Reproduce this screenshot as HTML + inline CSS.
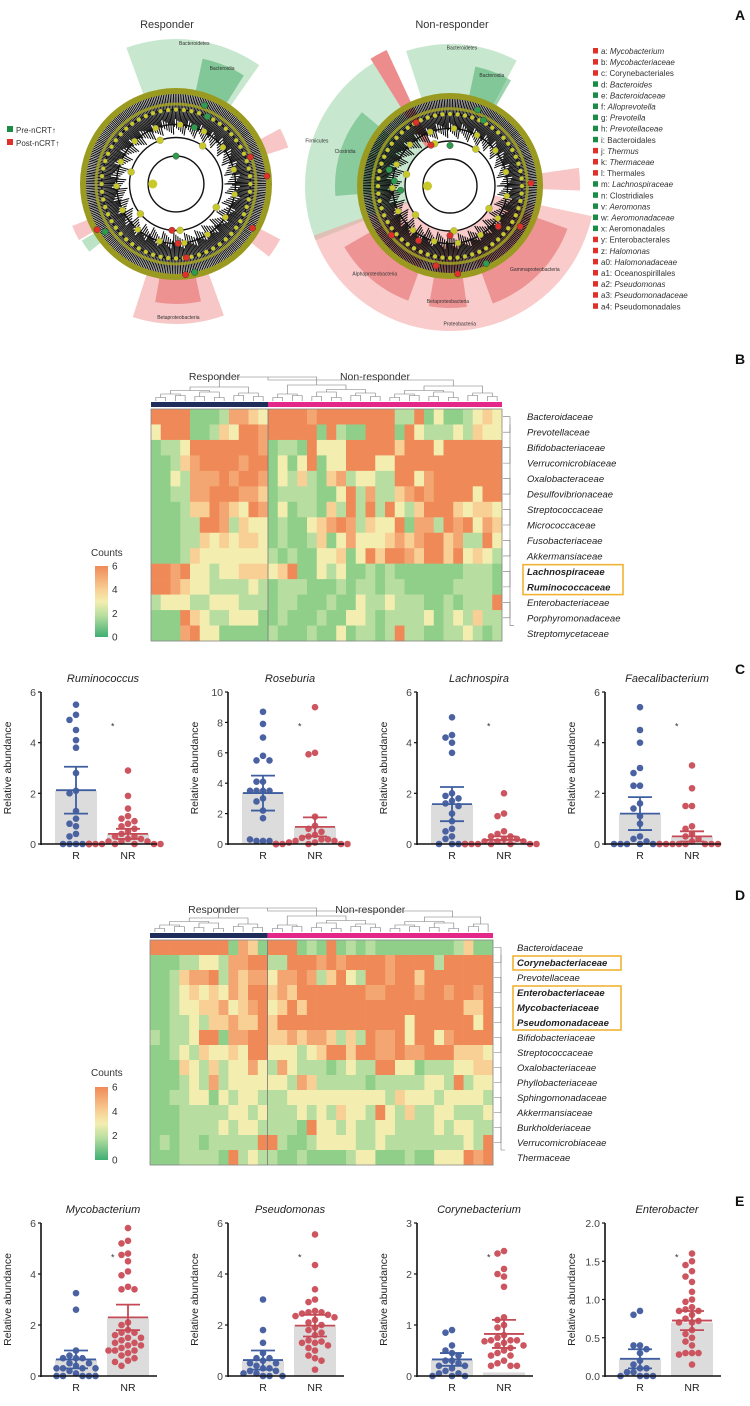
<!DOCTYPE html>
<html><head><meta charset="utf-8"><style>
body{margin:0;background:#fff}
svg text{font-family:"Liberation Sans",sans-serif}
</style></head><body>
<svg id="fig" xmlns="http://www.w3.org/2000/svg" width="750" height="1401" viewBox="0 0 750 1401">
<g id="panelA"></g>
<g id="panelB"></g>
<g id="panelC"></g>
<g id="panelD"></g>
<g id="panelE"></g>
<g font-weight="bold" font-size="14" fill="#111">
<text x="735" y="20">A</text>
<text x="735" y="364">B</text>
<text x="735" y="674">C</text>
<text x="735" y="900">D</text>
<text x="735" y="1206">E</text>
</g>
</svg>
<script>
// ---------- DATA ----------
const legendKeys=["a","b","c","d","e","f","g","h","i","j","k","l","m","n","v","w","x","y","z","a0","a1","a2","a3","a4"];
const legendTaxa=["Mycobacterium","Mycobacteriaceae","Corynebacteriales","Bacteroides","Bacteroidaceae","Alloprevotella","Prevotella","Prevotellaceae","Bacteroidales","Thermus","Thermaceae","Thermales","Lachnospiraceae","Clostridiales","Aeromonas","Aeromonadaceae","Aeromonadales","Enterobacterales","Halomonas","Halomonadaceae","Oceanospirillales","Pseudomonas","Pseudomonadaceae","Pseudomonadales"];
const legendGroup=["post","post","post","pre","pre","pre","pre","pre","pre","post","post","post","pre","pre","pre","pre","pre","post","post","post","post","post","post","post"];
const legendItalic=[1,1,0,1,1,1,1,1,0,1,1,0,1,0,1,1,0,0,1,1,0,1,1,0];

const heatBRows=["Bacteroidaceae","Prevotellaceae","Bifidobacteriaceae","Verrucomicrobiaceae","Oxalobacteraceae","Desulfovibrionaceae","Streptococcaceae","Micrococcaceae","Fusobacteriaceae","Akkermansiaceae","Lachnospiraceae","Ruminococcaceae","Enterobacteriaceae","Porphyromonadaceae","Streptomycetaceae"];
const heatBValues=[
"666611125543666656666666622613112343",
"366611243665666661621166616322232433",
"122366666665122163336666646663666666",
"112456666566131361336663366666666666",
"113255565665132421452332266356666666",
"112255666554122221136252245656666366",
"111244654365131221426262632466643443",
"111226652433121134565243361552656354",
"111224343443121124135333454566452263",
"111243333333212113341364665466463432",
"665633233444346113231121211111112221",
"665433222232122211121221221111122221",
"233322333222122111211322322211212226",
"111643223331121112113321222231232422",
"111563311111211121131221262211223212"];
const heatBBold=[10,11];
const heatDRows=["Bacteroidaceae","Corynebacteriaceae","Prevotellaceae","Enterobacteriaceae","Mycobacteriaceae","Pseudomonadaceae","Bifidobacteriaceae","Streptococcaceae","Oxalobacteriaceae","Phyllobacteriaceae","Sphingomonadaceae","Akkermansiaceae","Burkholderiaceae","Verrucomicrobiaceae","Thermaceae"];
const heatDValues=[
"66666666154166612161212111111112411",
"11122332556622666565666656666266666",
"11245562545535565246326656646666666",
"11234343546645466666665566656656656",
"11233445345634646666666666666666446",
"11223244544646666666666666366666636",
"21223661556644545542426556366356666",
"11232433436633323466466556556664443",
"11143242335325322212322663312223344",
"11123252333333254222221222223326233",
"11223313233222333333333324333233332",
"11122222332322232324332632422332223",
"11122223233222216332322332222323322",
"12122122222662112333322322222222326",
"11122221623221121111233111211333656"];
const heatDBold=[1,3,4,5];
const countTicks=[6,4,2,0];

// Panel C
const cTitles=["Ruminococcus","Roseburia","Lachnospira","Faecalibacterium"];
const cMax=[6,10,6,6];
const cTicks=[[0,2,4,6],[0,2,4,6,8,10],[0,2,4,6],[0,2,4,6]];
const cR=[[5.5,5.1,4.9,4.5,4.1,3.8,2.8,2.1,2.0,1.3,1.0,0.8,0.7,0.4,0.3,0,0,0,0,0],
[8.7,7.9,7.0,5.8,5.5,5.5,4.1,4.1,3.5,3.5,3.5,3.5,3.0,2.8,2.2,1.7,0.2,0.2,0.2,0.3],
[5.0,4.3,4.2,4.0,3.6,2.0,1.9,1.8,1.7,1.6,1.5,1.2,0.9,0.6,0.5,0.3,0.2,0,0,0,0],
[5.4,4.5,4.0,3.0,2.8,2.3,2.3,1.6,1.4,1.1,0.8,0.3,0.2,0.1,0,0,0,0,0,0]];
const cNR=[[2.9,1.9,1.4,1.1,1.0,0.9,0.8,0.7,0.6,0.5,0.4,0.3,0.3,0.2,0.2,0.1,0.1,0.1,0,0,0,0,0,0,0,0,0,0],
[9.0,6.0,5.9,1.8,1.2,1.0,0.8,0.6,0.5,0.4,0.3,0.3,0.2,0.2,0.1,0.1,0,0,0,0,0,0,0,0,0],
[2.0,1.2,1.1,0.5,0.4,0.3,0.3,0.2,0.2,0.1,0.1,0.1,0,0,0,0,0,0,0,0],
[3.1,2.2,1.5,1.5,0.7,0.6,0.4,0.3,0.2,0.1,0,0,0,0,0,0,0,0]];
const cBarR=[2.1,3.4,1.55,1.2];
const cErrR=[[1.2,3.05],[2.2,4.5],[0.9,2.25],[0.55,1.85]];
const cBarNR=[0.4,1.1,0.15,0.3];
const cErrNR=[[0.2,0.6],[0.5,1.75],[0.02,0.3],[0.1,0.5]];

// Panel E
const eTitles=["Mycobacterium","Pseudomonas","Corynebacterium","Enterobacter"];
const eMax=[6,6,3,2];
const eTicks=[[0,2,4,6],[0,2,4,6],[0,1,2,3],[0,0.5,1.0,1.5,2.0]];
const eTickFmt=[0,0,0,1];
const eR=[[3.25,2.6,1.0,0.8,0.7,0.7,0.7,0.5,0.5,0.4,0.3,0.3,0.3,0.3,0.2,0.1,0,0,0,0,0],
[3.0,1.8,1.3,0.9,0.7,0.7,0.6,0.5,0.5,0.4,0.3,0.3,0.2,0.2,0.1,0.1,0,0,0],
[0.9,0.85,0.6,0.5,0.45,0.4,0.3,0.3,0.25,0.2,0.2,0.15,0.1,0.05,0.05,0,0,0],
[0.85,0.8,0.4,0.4,0.35,0.3,0.2,0.15,0.1,0.1,0.05,0.05,0,0,0,0]];
const eNR=[[5.8,5.3,5.2,4.8,4.75,4.5,4.1,3.95,3.5,3.4,3.4,2.1,2.0,1.8,1.7,1.7,1.6,1.5,1.5,1.4,1.3,1.3,1.2,1.2,1.1,1.0,1.0,1.0,0.9,0.8,0.7,0.6,0.55,0.4],
[5.55,4.35,3.4,3.0,2.9,2.55,2.5,2.5,2.45,2.4,2.35,2.3,2.2,2.1,2.0,1.9,1.8,1.7,1.6,1.4,1.35,1.3,1.3,1.2,1.1,1.0,0.8,0.7,0.6,0.25],
[2.45,2.4,2.1,2.0,1.95,1.75,1.15,1.1,1.0,0.95,0.8,0.75,0.7,0.7,0.7,0.68,0.65,0.6,0.6,0.55,0.5,0.45,0.4,0.4,0.3,0.25,0.2,0.2,0.2],
[1.6,1.5,1.45,1.37,1.3,1.23,1.1,1.0,0.97,0.9,0.87,0.85,0.85,0.8,0.75,0.72,0.7,0.7,0.6,0.55,0.5,0.45,0.4,0.3,0.3,0.3,0.28,0.15]];
const eBarR=[0.65,0.6,0.32,0.22];
const eErrR=[[0.3,1.0],[0.25,1.0],[0.2,0.45],[0.1,0.35]];
const eBarNR=[2.3,2.0,0.07,0.7];
const eErrNR=[[1.8,2.8],[1.55,2.4],[0.55,1.1],[0.6,0.85]];

// ---------- HELPERS ----------
const NS="http://www.w3.org/2000/svg";
function mk(parent,tag,attrs,txt){const e=document.createElementNS(NS,tag);for(const k in attrs)e.setAttribute(k,attrs[k]);if(txt!==undefined)e.textContent=txt;parent.appendChild(e);return e;}
function heatColor(v){const c=["#5fba7d","#8fcf8a","#b7dea0","#f3eeb0","#f8cf94","#f4a672","#ef8a58"];return c[Math.max(0,Math.min(6,v))];}
function rad(a){return a*Math.PI/180;}
function sector(cx,cy,r0,r1,a0,a1){const p=(r,a)=>[cx+r*Math.cos(rad(a)),cy+r*Math.sin(rad(a))];const A=p(r1,a0),B=p(r1,a1),C=p(r0,a1),D=p(r0,a0);const lg=(a1-a0)>180?1:0;
return `M${A} A${r1},${r1} 0 ${lg} 1 ${B} L${C} A${r0},${r0} 0 ${lg} 0 ${D}Z`;}

// ---------- PANEL A ----------
const gA=document.getElementById('panelA');
function clado(cx,cy,R,sectors,nodes,name){
  const g=mk(gA,'g',{});
  
  
  sectors.forEach(s=>{const p=mk(g,'path',{d:sector(cx,cy,s[0],s[1],s[2],s[3]),fill:s[4],opacity:s[5]});
    
    if(s[6]){const am=(s[2]+s[3])/2,rr=s[1]-5;mk(g,'text',{x:cx+rr*Math.cos(rad(am)),y:cy+rr*Math.sin(rad(am)),'font-size':5,'text-anchor':'middle',fill:'#333'},s[6]);}
  });
  for(let a=0;a<360;a+=1.1){const r0=R*0.52+((a*7)%17),r1=R;
    mk(g,'line',{x1:cx+r0*Math.cos(rad(a)),y1:cy+r0*Math.sin(rad(a)),x2:cx+r1*Math.cos(rad(a)),y2:cy+r1*Math.sin(rad(a)),stroke:'#111','stroke-width':1.1});}
  mk(g,'circle',{cx,cy,r:R*0.5,fill:'#fff',stroke:'none'});
  [0.3,0.5,0.64,0.8].forEach(f=>mk(g,'circle',{cx,cy,r:R*f,fill:'none',stroke:'#111','stroke-width':1.4}));
  mk(g,'circle',{cx,cy,r:R,fill:'none',stroke:'#9a9a20','stroke-width':6});
  mk(g,'circle',{cx,cy,r:R*0.86,fill:'none',stroke:'#a8a820','stroke-width':3,opacity:0.8});
  for(let a=0;a<360;a+=6){mk(g,'circle',{cx:cx+R*0.8*Math.cos(rad(a)),cy:cy+R*0.8*Math.sin(rad(a)),r:2.2,fill:'#c8c828',stroke:'#777','stroke-width':0.3});}
  for(let a=10;a<360;a+=24){mk(g,'circle',{cx:cx+R*0.64*Math.cos(rad(a)),cy:cy+R*0.64*Math.sin(rad(a)),r:3,fill:'#c8c828',stroke:'#777','stroke-width':0.3});}
  for(let a=30;a<360;a+=55){mk(g,'circle',{cx:cx+R*0.5*Math.cos(rad(a)),cy:cy+R*0.5*Math.sin(rad(a)),r:3.5,fill:'#c8c828',stroke:'#777','stroke-width':0.3});}
  mk(g,'circle',{cx:cx-R*0.25,cy,r:4.5,fill:'#c8c828'});
  nodes.forEach(n=>mk(g,'circle',{cx:cx+n[1]*R*Math.cos(rad(n[0])),cy:cy+n[1]*R*Math.sin(rad(n[0])),r:3.2,fill:n[2],stroke:'#333','stroke-width':0.4}));
}
const GR='#2e9c4f',RD='#e0302a';
clado(176,184,93,[
 [93,145,-110,-55,'#8fd0a0',0.5,'Bacteroidetes'],[93,128,-78,-58,'#3da860',0.5,'Bacteroidia'],
 [93,140,70,108,'#f09090',0.5,'Betaproteobacteria'],[93,120,78,100,'#e05050',0.45,''],
 [93,118,-28,-18,'#f3a0a0',0.6,''],[93,118,28,38,'#f3a0a0',0.6,''],[93,112,150,158,'#f3a0a0',0.6,''],[93,110,142,149,'#8fd0a0',0.6,'']
],[[-70,0.9,GR],[-65,0.8,GR],[-72,0.64,GR],[-90,0.3,GR],[-20,0.85,RD],[-5,0.98,RD],[30,0.95,RD],[82,0.8,RD],[88,0.64,RD],[95,0.5,RD],[150,0.98,RD],[146,0.92,GR],[84,0.98,RD],[78,0.97,GR]],'cladogram-responder');
clado(450,186,90,[
 [90,142,-108,-62,'#8fd0a0',0.5,'Bacteroidetes'],[90,122,-78,-60,'#3da860',0.5,'Bacteroidia'],
 [40,145,158,238,'#8fd0a0',0.5,'Firmicutes'],[60,115,175,220,'#3da860',0.45,'Clostridia'],
 [30,145,12,160,'#f4a0a0',0.55,'Proteobacteria'],[60,125,20,70,'#e05050',0.45,'Gammaproteobacteria'],[60,122,110,150,'#e05050',0.45,'Alphaproteobacteria'],[60,122,82,100,'#e05050',0.45,'Betaproteobacteria'],
 [40,150,-122,-115,'#e04040',0.6,''],[90,130,-8,2,'#f3a0a0',0.6,'']
],[[-70,0.9,GR],[-63,0.82,GR],[-90,0.45,GR],[195,0.7,GR],[185,0.62,GR],[175,0.55,GR],[-118,0.8,RD],[-115,0.5,RD],[-2,0.9,RD],[30,0.9,RD],[40,0.7,RD],[90,0.55,RD],[120,0.7,RD],[140,0.85,RD],[65,0.95,GR],[85,0.98,RD],[100,0.9,RD]],'cladogram-non-responder');
mk(gA,'text',{x:167,y:28,'font-size':11,'text-anchor':'middle',fill:'#333'},'Responder');
mk(gA,'text',{x:452,y:28,'font-size':11,'text-anchor':'middle',fill:'#333'},'Non-responder');
[['Pre-nCRT↑','#1a8c46',133],['Post-nCRT↑','#e0302a',146]].forEach(l=>{
  const g=mk(gA,'g',{});
  mk(g,'rect',{x:7,y:l[2]-7,width:6,height:6,fill:l[1]});mk(g,'text',{x:16,y:l[2],'font-size':8,fill:'#333'},l[0]);});
legendKeys.forEach((k,i)=>{
  const y=54+i*11.1;const g=mk(gA,'g',{});
  
  
  mk(g,'rect',{x:593,y:y-6,width:5,height:5.5,fill:legendGroup[i]==='pre'?'#1a8c46':'#e0302a'});
  const t=mk(g,'text',{x:601,y,'font-size':8,fill:'#333'});
  mk(t,'tspan',{},k+': ');mk(t,'tspan',{'font-style':legendItalic[i]?'italic':'normal'},legendTaxa[i]);
});

// ---------- HEATMAPS ----------
function heatmap(gid,x0,x1,y0,y1,nR,rows,vals,bold,boxes,labelX,titleY,legY,barY0,barY1){
  const g=document.getElementById(gid);
  const nC=vals[0].length,cw=(x1-x0)/nC,rh=(y1-y0)/rows.length;
  mk(g,'text',{x:x0+nR*cw/2+5,y:titleY,'font-size':10.5,'text-anchor':'middle',fill:'#333'},'Responder');
  mk(g,'text',{x:x0+nR*cw+(nC-nR)*cw/2-10,y:titleY,'font-size':10.5,'text-anchor':'middle',fill:'#333'},'Non-responder');
  const dy=y0-8;
  let level=[];for(let c=0;c<nC;c++)level.push({x:x0+(c+0.5)*cw,h:dy});
  let depth=0;
  while(level.length>1){depth++;const nx=[];
    for(let i=0;i<level.length;i+=2){
      if(i+1<level.length && !(level[i].x<x0+nR*cw && level[i+1].x>x0+nR*cw && level.length>2)){
        const a=level[i],b=level[i+1],h=dy-Math.min(22,depth*3.5+((i*7)%3));
        mk(g,'path',{d:`M${a.x},${a.h}V${h}H${b.x}V${b.h}`,fill:'none',stroke:'#777','stroke-width':0.6});
        nx.push({x:(a.x+b.x)/2,h});
      } else {nx.push(level[i]); if(i+1<level.length){nx.push(level[i+1]);}}
    }
    if(nx.length===level.length){const a=nx[0],b=nx[1],h=dy-24;mk(g,'path',{d:`M${a.x},${a.h}V${h}H${b.x}V${b.h}`,fill:'none',stroke:'#777','stroke-width':0.6});nx.splice(0,2,{x:(a.x+b.x)/2,h});}
    level=nx;}
  const rb=mk(g,'rect',{x:x0,y:y0-7,width:nR*cw,height:5,fill:'#1f2d5a'});
  
  const nb=mk(g,'rect',{x:x0+nR*cw,y:y0-7,width:(nC-nR)*cw,height:5,fill:'#e4288a'});
  
  vals.forEach((row,r)=>{for(let c=0;c<nC;c++){
    const cell=mk(g,'rect',{x:x0+c*cw,y:y0+r*rh,width:cw+0.3,height:rh+0.3,fill:heatColor(+row[c])});
    
    }});
  mk(g,'rect',{x:x0,y:y0,width:x1-x0,height:y1-y0,fill:'none',stroke:'#888','stroke-width':0.8});
  mk(g,'line',{x1:x0+nR*cw,y1:y0,x2:x0+nR*cw,y2:y1,stroke:'#777','stroke-width':0.8});
  for(let r=0;r<rows.length-1;r+=2){const ya=y0+(r+0.5)*rh,yb=y0+(r+1.5)*rh;mk(g,'path',{d:`M${x1+1},${ya}H${x1+8}V${yb}H${x1+1}`,fill:'none',stroke:'#777','stroke-width':0.6});}
  mk(g,'path',{d:`M${x1+8},${y0+rh}V${y1-rh}H${x1+12}`,fill:'none',stroke:'#777','stroke-width':0.6});
  rows.forEach((n,r)=>{const t=mk(g,'text',{x:labelX,y:y0+(r+0.5)*rh+3.5,'font-size':9.5,'font-style':'italic','font-weight':bold.includes(r)?'bold':'normal',fill:'#222'},n);
    });
  boxes.forEach(b=>{const bx=mk(g,'rect',{x:labelX-4,y:y0+b[0]*rh+1,width:b[2],height:(b[1]-b[0]+1)*rh-1,fill:'none',stroke:'#f2b233','stroke-width':1.6});
    });
  mk(g,'text',{x:91,y:legY,'font-size':10,fill:'#333'},'Counts');
  const gid2=gid+'grad';const defs=mk(g,'defs',{});const lg=mk(defs,'linearGradient',{id:gid2,x1:0,y1:0,x2:0,y2:1});
  [[0,'#ef8a58'],[0.33,'#f8cf94'],[0.5,'#f3eeb0'],[0.7,'#b7dea0'],[1,'#3fae73']].forEach(s=>mk(lg,'stop',{offset:s[0],'stop-color':s[1]}));
  const cb=mk(g,'rect',{x:95,y:barY0,width:13,height:barY1-barY0,fill:`url(#${gid2})`});
  
  countTicks.forEach(v=>{mk(g,'text',{x:112,y:barY1-(v/6)*(barY1-barY0)+3.5,'font-size':10,fill:'#333'},String(v));});
}
heatmap('panelB',151,502,409,641,12,heatBRows,heatBValues,heatBBold,[[10,11,100]],527,380,556,566,637);
heatmap('panelD',150,493,940,1165,12,heatDRows,heatDValues,heatDBold,[[1,1,108],[3,5,108]],517,913,1076,1087,1160);

// ---------- DOT PLOTS ----------
function dotplot(gid,ax,y0,ytop,max,ticks,fmt,title,R,NR,bR,eR_,bNR,eNR_){
  const g=document.getElementById(gid);
  const gg=mk(g,'g',{});
  
  
  const y=v=>y0-(v/max)*(y0-ytop);
  const xR=ax+35,xNR=ax+87;
  mk(gg,'text',{x:ax+62,y:ytop-10,'font-size':11,'font-style':'italic','text-anchor':'middle',fill:'#222'},title);
  const t=mk(gg,'text',{x:ax-30,y:(y0+ytop)/2,'font-size':10.5,'text-anchor':'middle',fill:'#222',transform:`rotate(-90 ${ax-30} ${(y0+ytop)/2})`},'Relative abundance');
  
  const b1=mk(gg,'rect',{x:xR-21,y:y(bR),width:42,height:y0-y(bR),fill:'#dcdcdc'});
  
  const b2=mk(gg,'rect',{x:xNR-21,y:y(bNR),width:42,height:y0-y(bNR),fill:'#dcdcdc'});
  
  function swarm(vals,cx,col){const placed=[];
    vals.forEach(v=>{const py=y(v);let k=0,px;
      while(true){const off=(k%2===0?1:-1)*Math.ceil(k/2)*6.5;px=cx+off;
        if(!placed.some(p=>Math.hypot(p[0]-px,p[1]-py)<6.4)||k>10)break;k++;}
      placed.push([px,py]);
      const c=mk(gg,'circle',{cx:px,cy:py,r:3.3,fill:col});
      
      });}
  swarm(R,xR,'#4a62a2');swarm(NR,xNR,'#cc5560');
  [[xR,eR_,bR,'#3f5ea0'],[xNR,eNR_,bNR,'#c44a55']].forEach(e=>{
    mk(gg,'path',{d:`M${e[0]-12},${y(e[1][0])}H${e[0]+12}M${e[0]-12},${y(e[1][1])}H${e[0]+12}M${e[0]},${y(e[1][0])}V${y(e[1][1])}M${e[0]-20},${y((e[1][0]+e[1][1])/2)}H${e[0]+20}`,stroke:e[3],'stroke-width':1.8,fill:'none'});});
  mk(gg,'text',{x:ax+70,y:y(max*0.78)+4,'font-size':9,fill:'#333'},'*');
  mk(gg,'line',{x1:ax,y1:ytop,x2:ax,y2:y0+1,stroke:'#111','stroke-width':1.6});
  mk(gg,'line',{x1:ax,y1:y0,x2:ax+116,y2:y0,stroke:'#111','stroke-width':1.6});
  ticks.forEach(v=>{mk(gg,'line',{x1:ax-3,y1:y(v),x2:ax,y2:y(v),stroke:'#111','stroke-width':1.2});
    mk(gg,'text',{x:ax-5,y:y(v)+4,'font-size':10.5,'text-anchor':'end',fill:'#444'},fmt?v.toFixed(1):String(v));});
  mk(gg,'text',{x:xR,y:y0+15,'font-size':10.5,'text-anchor':'middle',fill:'#222'},'R');
  mk(gg,'text',{x:xNR,y:y0+15,'font-size':10.5,'text-anchor':'middle',fill:'#222'},'NR');
}
const axX=[41,228,417,605];
for(let i=0;i<4;i++){
  dotplot('panelC',axX[i],844,692,cMax[i],cTicks[i],0,cTitles[i],cR[i],cNR[i],cBarR[i],cErrR[i],cBarNR[i],cErrNR[i]);
  dotplot('panelE',axX[i],1376,1223,eMax[i],eTicks[i],eTickFmt[i],eTitles[i],eR[i],eNR[i],eBarR[i],eErrR[i],eBarNR[i],eErrNR[i]);
}
</script>
</body></html>
